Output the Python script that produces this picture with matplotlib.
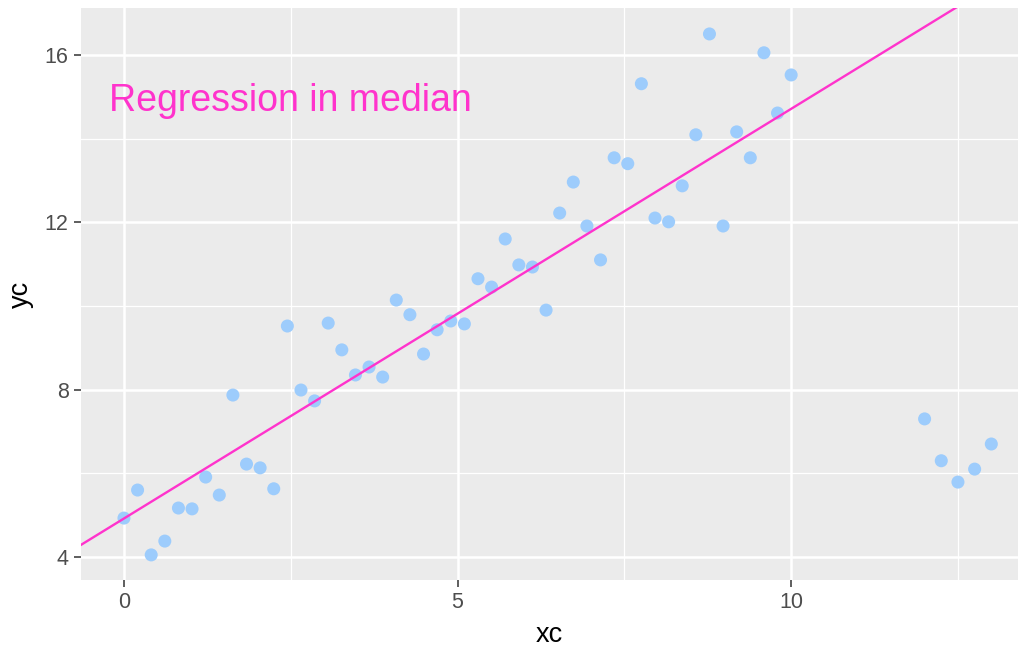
import numpy as np
import matplotlib.pyplot as plt

# points along the trend
xc_main = np.linspace(0, 10, 50)
yc_main = [4.93, 5.60, 4.05, 4.38, 5.17, 5.15, 5.91, 5.48, 7.87, 6.22,
           6.13, 5.63, 9.52, 7.99, 7.73, 9.59, 8.95, 8.35, 8.54, 8.30,
           10.14, 9.79, 8.85, 9.43, 9.64, 9.57, 10.65, 10.45, 11.60, 10.98,
           10.93, 9.90, 12.22, 12.96, 11.91, 11.10, 13.54, 13.40, 15.31, 12.10,
           12.01, 12.87, 14.09, 16.50, 11.91, 14.16, 13.54, 16.05, 14.61, 15.52]

# outliers on the right
xc_out = [12.0, 12.25, 12.5, 12.75, 13.0]
yc_out = [7.30, 6.30, 5.79, 6.10, 6.70]

# median (quantile 0.5) regression line
intercept = 4.92
slope = 0.979

xc = np.concatenate([xc_main, xc_out])
yc = np.concatenate([yc_main, yc_out])

point_col = '#9DCCFC'
line_col = '#FF33CC'

plt.rcParams['font.family'] = ['Liberation Sans', 'DejaVu Sans']

W, H = 1021, 651
fig = plt.figure(figsize=(W / 100, H / 100), dpi=100)
ax = fig.add_axes([81 / W, (H - 580) / H, (1018 - 81) / W, (580 - 8) / H])
ax.set_facecolor('#EBEBEB')
for s in ax.spines.values():
    s.set_visible(False)

ax.set_xlim(-0.644, 13.40)
ax.set_ylim(3.45, 17.12)

ax.set_xticks([0, 5, 10])
ax.set_yticks([4, 8, 12, 16])
ax.set_xticks([2.5, 7.5, 12.5], minor=True)
ax.set_yticks([6, 10, 14], minor=True)
ax.grid(which='major', color='white', linewidth=1.8)
ax.grid(which='minor', color='white', linewidth=0.9)
ax.set_axisbelow(True)
ax.tick_params(which='major', length=5, width=1.1, color='#333333',
               labelsize=15.5, labelcolor='#4D4D4D', pad=4)
ax.tick_params(which='minor', length=0)

ax.scatter(xc, yc, s=88, color=point_col, edgecolors='none', zorder=3)

xs = np.array(ax.get_xlim())
ax.plot(xs, intercept + slope * xs, color=line_col, linewidth=1.7, zorder=4)

ax.annotate('Regression in median', xy=(2.5, 15), xytext=(0, -3),
            textcoords='offset points', color=line_col, fontsize=27,
            ha='center', va='center', zorder=5)

ax.set_xlabel('xc', fontsize=19.5, color='black', labelpad=6)
ax.set_ylabel('yc', fontsize=19.5, color='black', labelpad=8)

fig.savefig('out.png', dpi=100)
